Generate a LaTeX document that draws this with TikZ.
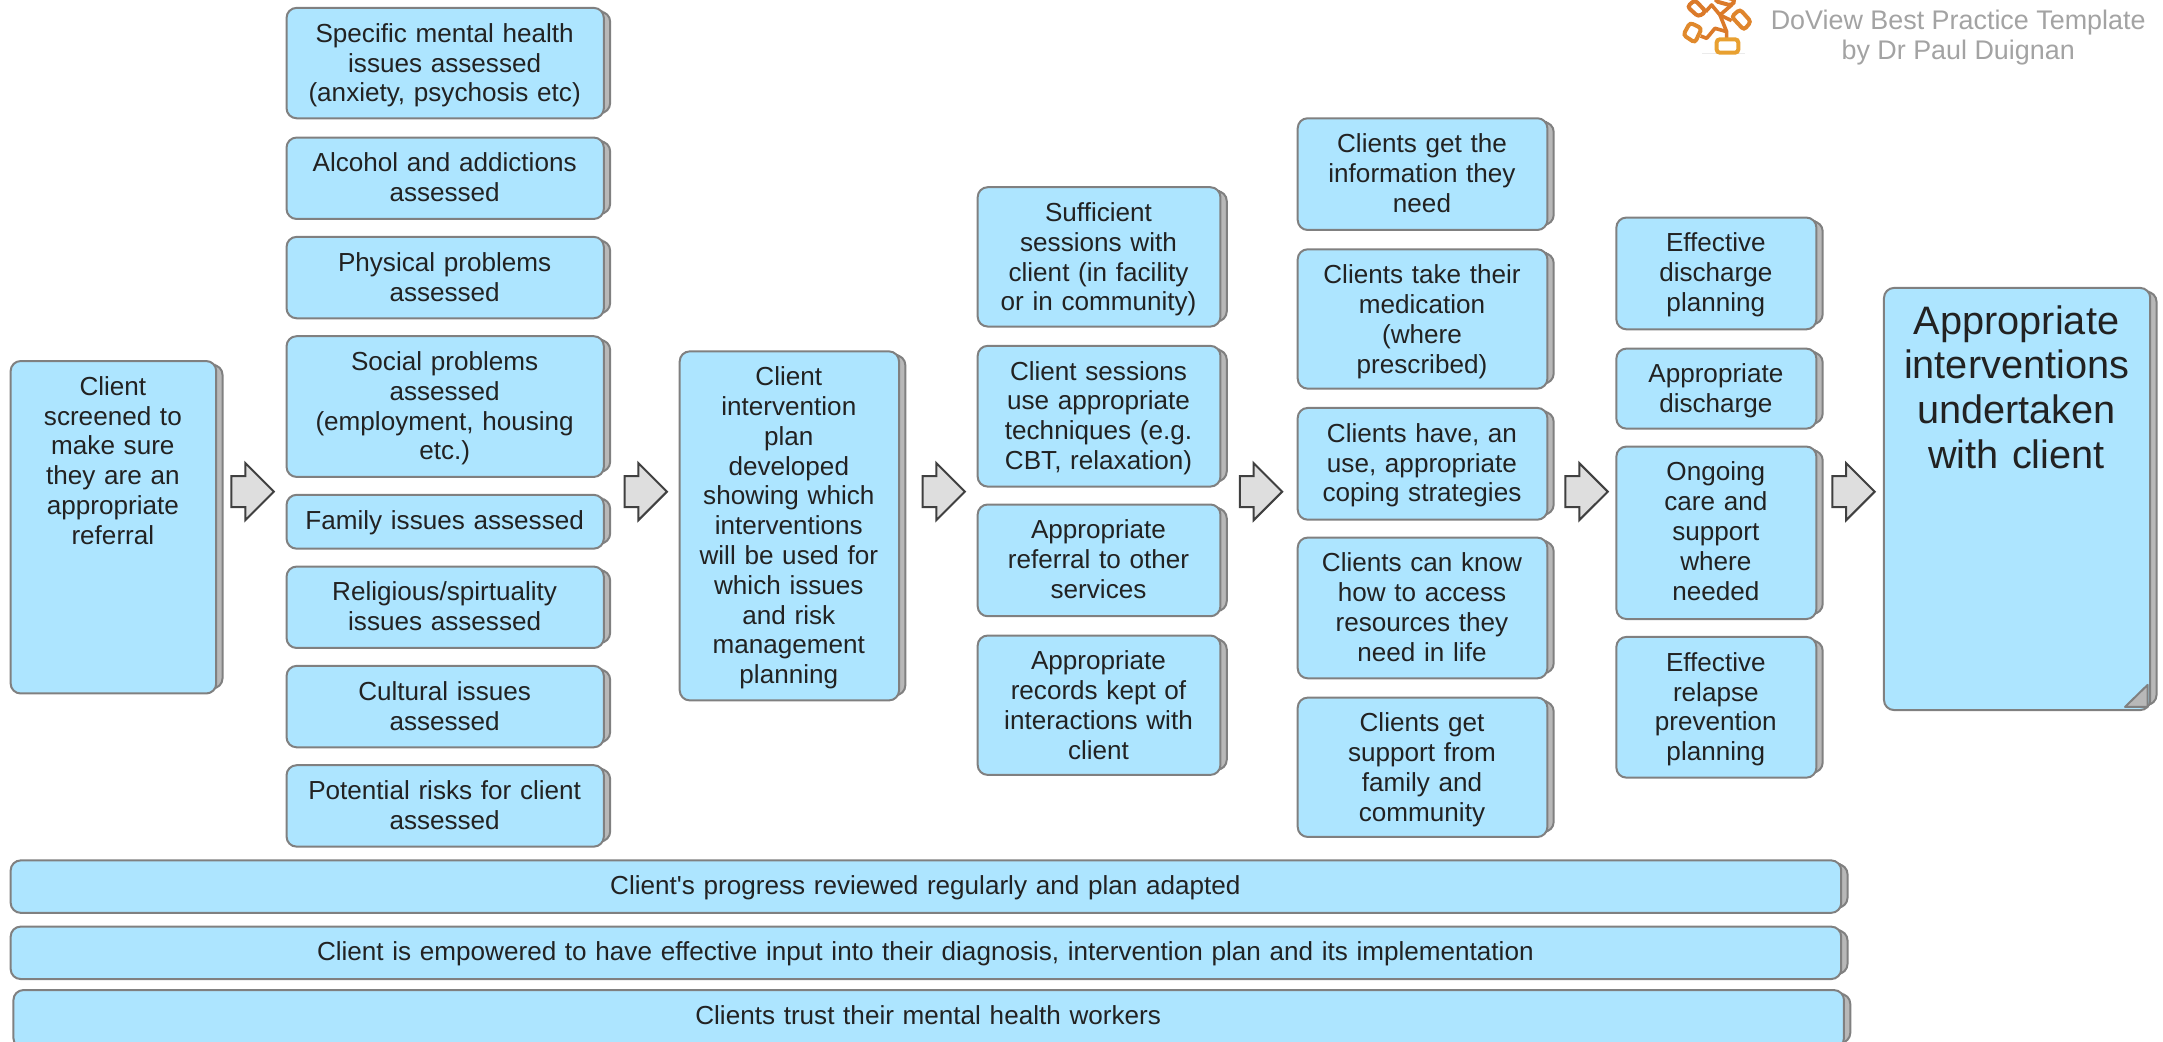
\documentclass[tikz,border=0pt]{standalone}
\usepackage{fontspec}
\setmainfont{Liberation Sans}
\usetikzlibrary{shapes.arrows,calc}
\definecolor{boxfill}{HTML}{ADE5FF}
\definecolor{boxline}{HTML}{808080}
\definecolor{shadefill}{HTML}{B8B8B8}
\definecolor{txt}{HTML}{222222}
\definecolor{arrowfill}{HTML}{DEDEDE}
\definecolor{arrowline}{HTML}{404040}
\definecolor{graytxt}{HTML}{A3A3A3}
\definecolor{logoA}{HTML}{DB7A2A}
\definecolor{logoB}{HTML}{E8A030}
\def\uu{0.68973}
\tikzset{
  x=\uu pt,y=-\uu pt,
  cardbox/.style={draw=boxline,fill=boxfill,line width=1pt,rounded corners=5pt,inner sep=0pt},
  cardshade/.style={draw=boxline,fill=shadefill,line width=1pt,rounded corners=5pt},
  cardtext/.style={anchor=north,align=center,text=txt,inner sep=0pt,font=\fontsize{13.05}{14.9}\selectfont},
  bigtext/.style={anchor=north,align=center,text=txt,inner sep=0pt,yshift=-1pt,font=\fontsize{19.85}{22.4}\selectfont},
  flow/.style={single arrow,draw=arrowline,fill=arrowfill,line width=1pt,inner sep=0pt,
    minimum height=21.2pt,single arrow head extend=6.5pt,
    single arrow tip angle=90,single arrow head indent=0pt},
  logoframe/.style={line width=2pt,rounded corners=1.6pt},
  logolink/.style={draw=logoA,line width=1.8pt,line join=round},
}
% name, x1, y1, x2, y2, text (x2 and y2 are outer edges; the line runs 1 unit inside)
\newcommand{\card}[7][cardtext]{%
  \draw[cardshade] (#5-8,#4+3.5) rectangle (#5+4.3,#6-4);
  \node[cardbox,anchor=north west,minimum width={(#5-1-#3)*\uu pt},minimum height={(#6-1-#4)*\uu pt}] (#2) at (#3,#4) {};
  \node[#1,text width={(#5-#3-6)*\uu pt}] (#2t) at ($(#2.north)+(-0.4,11.6)$) {#7};
}
\begin{document}
\begin{tikzpicture}
\useasboundingbox (0,0) rectangle (1568,754.7);
\fill[white] (0,0) rectangle (1568,754.7);
% logo (coordinates in thirds of a reference pixel)
\begin{scope}[shift={(1210.58,0)},x=0.16667pt,y=-0.16667pt]
\fill[black!8] (95,160) rectangle (225,162);
\draw[logolink] (107,35) -- (125,15) -- (150,45) -- (185,15);
\draw[logolink] (150,45) -- (170,95) -- (170,118);
\draw[logolink] (92,108) -- (110,115) -- (135,85) -- (170,95);
\draw[logolink] (150,45) -- (185,62);
\draw[logoframe,draw=logoA] (52,20) -- (75,0) -- (108,35) -- (85,50) -- cycle;
\draw[logoframe,draw=logoA] (135,3) -- (148,-14) -- (196,0) -- (185,17) -- cycle;
\draw[logoframe,draw=logoA!70!logoB] (185,50) -- (210,28) -- (243,65) -- (222,90) -- cycle;
\draw[logoframe,draw=logoA!60!logoB] (40,105) -- (60,68) -- (95,85) -- (75,128) -- cycle;
\draw[logoframe,draw=logoB] (140,118) rectangle (205,158);
\end{scope}
\card{c1}{7}{261}{157}{503}{Client\\screened to\\make sure\\they are an\\appropriate\\referral}
\card{c2a}{207}{5}{438}{86}{Specific mental health\\issues assessed\\(anxiety, psychosis etc)}
\card{c2b}{207}{99}{438}{159}{Alcohol and addictions\\assessed}
\card{c2c}{207}{171}{438}{231}{Physical problems\\assessed}
\card{c2d}{207}{243}{438}{346}{Social problems\\assessed\\(employment, housing\\etc.)}
\card{c2e}{207}{358}{438}{398}{Family issues assessed}
\card{c2f}{207}{410}{438}{470}{Religious/spirtuality\\issues assessed}
\card{c2g}{207}{482}{438}{542}{Cultural issues\\assessed}
\card{c2h}{207}{554}{438}{614}{Potential risks for client\\assessed}
\card{c3}{492}{254}{652}{508}{Client\\intervention\\plan\\developed\\showing which\\interventions\\will be used for\\which issues\\and risk\\management\\planning}
\card{c4a}{708}{135}{885}{237}{Sufficient\\sessions with\\client (in facility\\or in community)}
\card{c4b}{708}{250}{885}{353}{Client sessions\\use appropriate\\techniques (e.g.\\CBT, relaxation)}
\card{c4c}{708}{365}{885}{447}{Appropriate\\referral to other\\services}
\card{c4d}{708}{460}{885}{562}{Appropriate\\records kept of\\interactions with\\client}
\card{c5a}{940}{85}{1122}{167}{Clients get the\\information they\\need}
\card{c5b}{940}{180}{1122}{282}{Clients take their\\medication\\(where\\prescribed)}
\card{c5c}{940}{295}{1122}{377}{Clients have, an\\use, appropriate\\coping strategies}
\card{c5d}{940}{389}{1122}{492}{Clients can know\\how to access\\resources they\\need in life}
\card{c5e}{940}{505}{1122}{607}{Clients get\\support from\\family and\\community}
\card{c6a}{1171}{157}{1317}{239}{Effective\\discharge\\planning}
\card{c6b}{1171}{252}{1317}{311}{Appropriate\\discharge}
\card{c6c}{1171}{323}{1317}{449}{Ongoing\\care and\\support\\where\\needed}
\card{c6d}{1171}{461}{1317}{564}{Effective\\relapse\\prevention\\planning}
\card[bigtext]{c7}{1365}{208}{1559}{515}{Appropriate\\interventions\\undertaken\\with client}
\card{b1}{7}{623}{1335}{662}{Client\textquotesingle s progress reviewed regularly and plan adapted}
\card{b2}{7}{671}{1335}{710}{Client is empowered to have effective input into their diagnosis, intervention plan and its implementation}
\card{b3}{9}{717}{1337}{760}{Clients trust their mental health workers}
% fold on the outcome box
\path (c7.south east) coordinate (fold);
\draw[draw=boxline,fill=shadefill,line width=1pt,line join=round] ($(fold)+(-19,-3)$) -- ($(fold)+(-2.6,-19)$) -- ($(fold)+(-2.6,-3)$) -- cycle;
% arrows
\foreach \n/\xx in {a1/177.5,a2/462.5,a3/678.5,a4/908.5,a5/1144.5,a6/1338}
  \node[flow] (\n) at (\xx,356.4) {\rule{0pt}{14.5pt}};
% template credit
\node[anchor=center,align=center,text=graytxt,inner sep=0pt,font=\fontsize{13.45}{15}\selectfont] (credit) at (1419.5,27.5) {DoView Best Practice Template\\by Dr Paul Duignan};
\end{tikzpicture}
\end{document}
